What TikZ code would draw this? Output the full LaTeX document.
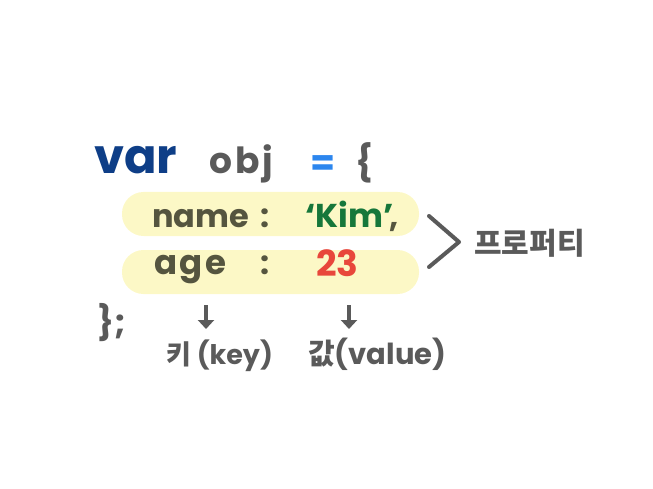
\documentclass[tikz,border=0pt]{standalone}
\usepackage{fontspec}
\setmainfont{Poppins}
\newfontfamily\krfont{Noto Sans CJK KR}
\usetikzlibrary{arrows.meta}
\definecolor{txtgrey}{HTML}{5A5A5A}
\definecolor{keyolive}{HTML}{55553F}
\definecolor{kimgreen}{HTML}{16773A}
\definecolor{numred}{HTML}{E8473B}
\definecolor{varblue}{HTML}{0E3E87}
\definecolor{eqblue}{HTML}{2C86EE}
\definecolor{pillyellow}{HTML}{FCF8C6}
\tikzset{
  code/.style={inner sep=0pt, anchor=base west, font=\fontsize{32}{36}\selectfont\bfseries},
  pill/.style={fill=pillyellow, draw=none, rounded corners=21.5pt},
  lbl/.style={inner sep=0pt, anchor=base west, text=txtgrey, font=\fontsize{27}{30}\selectfont\bfseries},
  arr/.style={draw=txtgrey, line width=4pt, -{Triangle[length=9pt,width=16pt]}},
}
\begin{document}
\begin{tikzpicture}[x=1pt,y=-1pt]
\useasboundingbox (0,0) rectangle (653,489);
% pills
\fill[pill] (122,192) rectangle (419,236);
\fill[pill] (122,250) rectangle (419,294);
% first line
\node[code, text=varblue, font=\fontsize{48}{52}\selectfont\bfseries] (var) at (94,174) {var};
\node[code, text=txtgrey, font=\fontsize{36}{40}\selectfont\bfseries\addfontfeatures{LetterSpace=8}] (obj) at (209,174) {obj};
\node[code, text=eqblue, font=\fontsize{36}{40}\selectfont\bfseries] (eq) at (310,176) {=};
\node[code, text=txtgrey, font=\fontsize{36}{40}\selectfont\bfseries] (brace) at (355,176) {\{};
% properties
\node[code, text=keyolive] (name) at (152,227) {name};
\node[code, text=keyolive] (col1) at (260,227) {:};
\node[code, text=kimgreen, font=\fontsize{33}{36}\selectfont\bfseries] (kim) at (305,227) {`Kim'};
\node[code, text=keyolive] (comma) at (389,227) {,};
\node[code, text=keyolive, font=\fontsize{34}{36}\selectfont\bfseries\addfontfeatures{LetterSpace=8}] (age) at (154,274) {age};
\node[code, text=keyolive] (col2) at (260,274) {:};
\node[code, text=numred, font=\fontsize{36}{40}\selectfont\bfseries] (num) at (316,276) {23};
% closing
\node[code, text=txtgrey, font=\fontsize{34}{38}\selectfont\bfseries] (close) at (97,334) {\};};
% bracket
\draw[txtgrey, line width=4pt, line cap=round, line join=round] (429,216) -- (459,242) -- (429,267);
\node[inner sep=0pt, anchor=base west, text=txtgrey, font=\krfont\fontsize{30}{34}\selectfont\bfseries] (prop) at (474,254) {프로퍼티};
% labels
\node[lbl] (keylbl) at (166,364) {{\krfont 키} (key)};
\node[lbl, font=\fontsize{29}{32}\selectfont\bfseries] (vallbl) at (308,364) {{\krfont 값}(value)};
\coordinate (a1s) at (206,305);
\coordinate (a1e) at (206,329);
\coordinate (a2s) at (349,305);
\coordinate (a2e) at (349,329);
\draw[arr] (a1s) -- (a1e);
\draw[arr] (a2s) -- (a2e);
\end{tikzpicture}
\end{document}
